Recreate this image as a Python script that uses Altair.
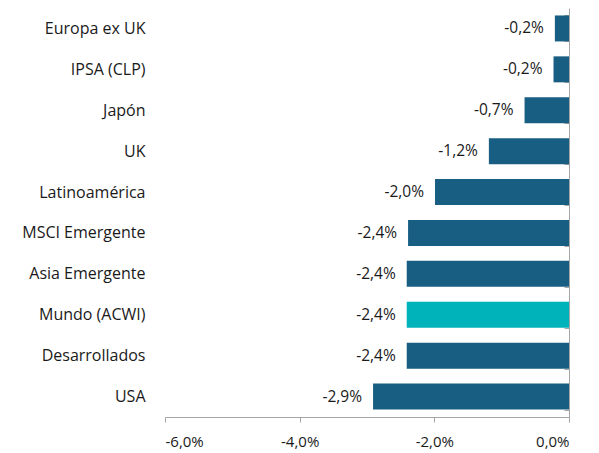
import altair as alt
import pandas as pd

categories = ["Europa ex UK", "IPSA (CLP)", "Japón", "UK", "Latinoamérica",
              "MSCI Emergente", "Asia Emergente", "Mundo (ACWI)", "Desarrollados", "USA"]
values = [-0.21, -0.23, -0.66, -1.19, -1.99, -2.39, -2.41, -2.41, -2.41, -2.91]
labels = ["-0,2%", "-0,2%", "-0,7%", "-1,2%", "-2,0%", "-2,4%", "-2,4%", "-2,4%", "-2,4%", "-2,9%"]
highlight = ["no", "no", "no", "no", "no", "no", "no", "yes", "no", "no"]
x_ticks = [-6.0, -4.0, -2.0, 0.0]

df = pd.DataFrame({"cat": categories, "val": values, "lab": labels, "hl": highlight})

FONT = "Open Sans"
TXT = "#1a1a1a"
AX = "#a6a6a6"
W, H = 404, 409

y = alt.Y("cat:N", sort=categories,
          scale=alt.Scale(paddingInner=0.365, paddingOuter=0.1825),
          axis=alt.Axis(title=None, orient="left", offset=-W, domain=True, domainColor=AX,
                        ticks=True, tickBand="extent", tickSize=5, tickColor=AX,
                        labelPadding=W + 20 - 5, labelFont=FONT, labelFontSize=16,
                        labelColor=TXT, grid=False))

x = alt.X("val:Q", scale=alt.Scale(domain=[-6, 0], nice=False),
          axis=alt.Axis(title=None, values=x_ticks, domainColor=AX, tickColor=AX, tickSize=5,
                        labelFont=FONT, labelFontSize=15, labelColor=TXT, labelPadding=12,
                        labelExpr="replace(replace(format(datum.value, '.1f'), '.', ','), '\u2212', '-') + '%'",
                        grid=False))

bars = alt.Chart(df).mark_bar().encode(
    y=y, x=x,
    color=alt.Color("hl:N", scale=alt.Scale(domain=["no", "yes"], range=["#175e82", "#00b2ba"]),
                    legend=None),
)

text = alt.Chart(df).mark_text(align="right", baseline="middle", dx=-11, font=FONT,
                               fontSize=15.5, color=TXT).encode(
    y=alt.Y("cat:N", sort=categories), x=alt.X("val:Q"), text="lab:N")

chart = alt.layer(bars, text).properties(
    width=W, height=H,
    autosize=alt.AutoSizeParams(type="none"),
    padding={"left": 157, "top": 0, "right": 18, "bottom": 34},
).configure_view(stroke=None)

chart.save("out.html", embed_options={"renderer": "svg", "actions": False})
